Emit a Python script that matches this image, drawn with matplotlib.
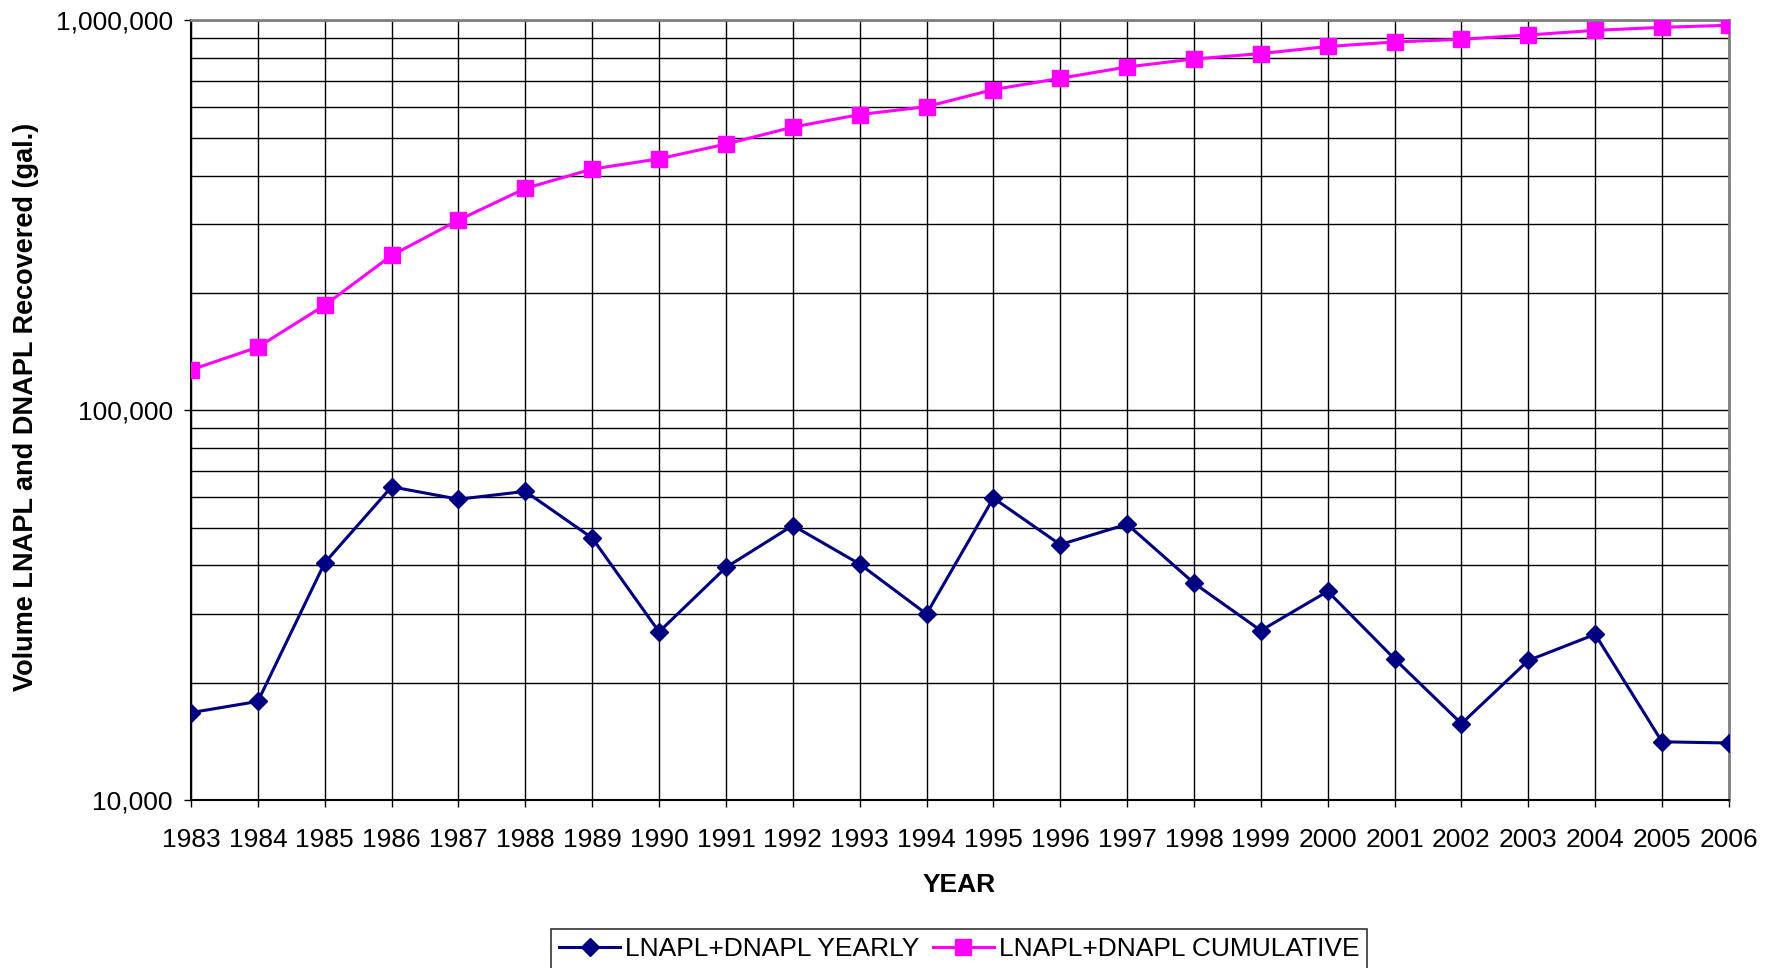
import numpy as np
import matplotlib
matplotlib.use("Agg")
import matplotlib.pyplot as plt
from matplotlib.ticker import FixedLocator, FuncFormatter, LogLocator, NullFormatter

plt.rcParams['font.family'] = ['Liberation Sans', 'DejaVu Sans']

# recovery data, gallons
years = list(range(1983, 2007))
yearly = [16750, 17900, 40600, 63600, 59100, 61900, 47000, 27000, 39500, 50600,
          40300, 30000, 59500, 45200, 51000, 36000, 27200, 34300, 23000, 15700,
          22800, 26600, 14100, 14000]
cumulative = [126900, 145100, 185900, 249500, 307400, 370700, 415500, 441500,
              481600, 532400, 573400, 600800, 664500, 710400, 759700, 796200,
              822000, 857300, 880300, 894500, 917500, 943000, 960000, 972000]

fig = plt.figure(figsize=(17.8, 9.68), dpi=100)
ax = fig.add_axes([0.1073, 0.1736, 0.8640, 0.8053])

ax.plot(years, yearly, color='#000080', lw=2.2, marker='D', markersize=9.5,
        label='LNAPL+DNAPL YEARLY', zorder=4)
ax.plot(years, cumulative, color='#FF00FF', lw=2.2, marker='s', markersize=11,
        label='LNAPL+DNAPL CUMULATIVE', zorder=4)

ax.set_yscale('log')
ax.set_ylim(1e4, 1e6)
ax.set_xlim(years[0], years[-1])

ax.yaxis.set_major_locator(FixedLocator([1e4, 1e5, 1e6]))
ax.yaxis.set_major_formatter(FuncFormatter(lambda v, p: f'{int(v):,}'))
ax.yaxis.set_minor_locator(LogLocator(base=10, subs=np.arange(2, 10)))
ax.yaxis.set_minor_formatter(NullFormatter())
ax.set_xticks(years)
ax.set_xticklabels([str(y) for y in years])

ax.grid(True, which='major', axis='both', color='black', lw=1.0)
ax.grid(True, which='minor', axis='y', color='black', lw=1.0)
ax.set_axisbelow(True)

ax.tick_params(axis='x', which='major', direction='out', length=5, width=1,
               pad=15, labelsize=19)
ax.tick_params(axis='y', which='major', direction='out', length=5, width=1,
               pad=8, labelsize=19)
ax.tick_params(axis='y', which='minor', length=0)

for side in ['top', 'right']:
    ax.spines[side].set_color('#808080')
    ax.spines[side].set_linewidth(2)
for side in ['left', 'bottom']:
    ax.spines[side].set_color('black')
    ax.spines[side].set_linewidth(1.5)

fig.text(0.0145, 0.580, 'Volume LNAPL and DNAPL Recovered (gal.)', rotation=90,
         ha='center', va='center', fontsize=19.5, fontweight='bold')
fig.text(0.539, 0.086, 'YEAR', ha='center', va='center', fontsize=19,
         fontweight='bold')

leg = fig.legend(loc='upper center', bbox_to_anchor=(0.539, 0.040), ncol=2,
                 fontsize=19, frameon=True, fancybox=False, edgecolor='black',
                 handlelength=2.3, handletextpad=0.2, columnspacing=0.5,
                 borderpad=0.3, borderaxespad=0)
leg.get_frame().set_linewidth(1.2)

fig.savefig('out.png', dpi=100, facecolor='white')
